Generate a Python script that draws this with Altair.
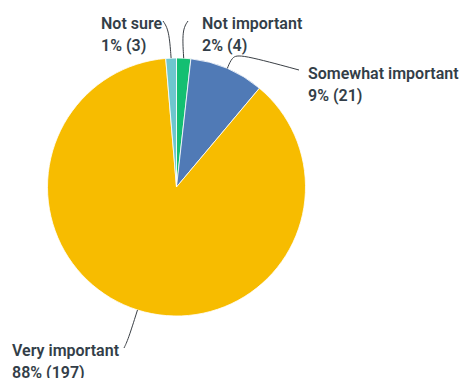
import altair as alt
import numpy as np
import pandas as pd

# ---- data ----
categories = ["Not important", "Somewhat important", "Very important", "Not sure"]
counts = [4, 21, 197, 3]
percents = [2, 9, 88, 1]
colors = ["#14BF72", "#507AB6", "#F7BC00", "#6EC6CE"]

# ---- layout (annotation positions, pixels) ----
CX, CY, R = 176.5, 187, 129
label_pos = {  # x, y (first baseline)
    "Not important": (202, 29),
    "Somewhat important": (308, 79),
    "Very important": (12, 356),
    "Not sure": (101, 29),
}
leader_path = {  # bend point(s), end point
    "Not important": [(182, 30), (188, 21)],
    "Somewhat important": [(232, 57), (240, 54), (299, 70)],
    "Very important": [(128, 340), (124, 348)],
    "Not sure": [(169, 30), (163, 21)],
}

df = pd.DataFrame({
    "category": categories,
    "count": counts,
    "order": list(range(len(categories))),
    "label": [f"{c}\n{p}% ({n})" for c, p, n in zip(categories, percents, counts)],
})
df["lx"] = [label_pos[c][0] for c in categories]
df["ly"] = [label_pos[c][1] for c in categories]

# leader lines: start at slice mid-angle on the rim
total = sum(counts)
cum = np.cumsum(counts)
rows = []
for i, c in enumerate(categories):
    mid = 2 * np.pi * (cum[i] - counts[i] / 2) / total
    pts = [(CX + R * np.sin(mid), CY - R * np.cos(mid))] + leader_path[c]
    for k, (x, y) in enumerate(pts):
        rows.append({"category": c, "k": k, "x": x, "y": y})
lines_df = pd.DataFrame(rows)

color_scale = alt.Scale(domain=categories, range=colors)

pie = alt.Chart(df).mark_arc(outerRadius=R, stroke="white", strokeWidth=0.8).encode(
    theta=alt.Theta("count:Q", stack=True),
    color=alt.Color("category:N", scale=color_scale, legend=None),
    order=alt.Order("order:Q"),
    x=alt.value(CX),
    y=alt.value(CY),
)

leaders = alt.Chart(lines_df).mark_line(
    color="#3a3f45", strokeWidth=1, interpolate="basis"
).encode(
    x=alt.X("x:Q", scale=None),
    y=alt.Y("y:Q", scale=None),
    detail="category:N",
    order="k:Q",
)

labels = alt.Chart(df).mark_text(
    align="left", baseline="alphabetic", font="Roboto", fontSize=16,
    fontWeight=600, color="#333e48", lineBreak="\n", lineHeight=22,
).encode(
    x=alt.X("lx:Q", scale=None),
    y=alt.Y("ly:Q", scale=None),
    text="label:N",
)

chart = alt.layer(pie, leaders, labels).properties(
    width=467, height=378, padding=0, autosize=alt.AutoSizeParams(type="none"),
).configure_view(stroke=None)

chart.save("out.html", embed_options={"renderer": "svg", "actions": False})
